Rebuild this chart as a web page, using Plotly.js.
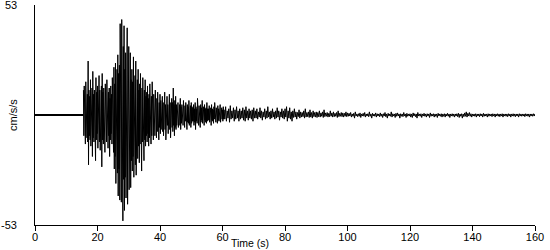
<!DOCTYPE html>
<html>
<head>
<meta charset="utf-8">
<script src="https://cdn.plot.ly/plotly-3.0.1.min.js"></script>
<style>
  html, body { margin: 0; padding: 0; background: #ffffff; }
  #chart { width: 550px; height: 250px; }
</style>
</head>
<body>
<div id="chart"></div>
<script>
// ---- Data (cm/s/s) ----
// Quiet record before the arrival
var preEventTime = [0, 15.5];
var preEventAccel = [0, 0];

// Strong motion 15.5-60.25 s: positive and negative peak per 0.25 s window
var strongStart = 15.5;
var strongStep = 0.25;
var strongUpper = [
  12, 14, 11, 16, 13, 10, 26, 12, 9, 17, 11, 13, 21, 10, 12, 8, 18, 11, 14, 10,
  19, 12, 9, 14, 20, 11, 13, 8, 15, 10, 17, 9, 11, 13, 8, 14, 10, 18, 13, 23,
  15, 25, 18, 22, 29, 20, 24, 44, 28, 46, 25, 33, 43, 22, 30, 27, 42, 24, 33, 19,
  30, 17, 22, 16, 28, 14, 19, 26, 13, 17, 22, 12, 15, 20, 11, 13, 18, 10, 12, 17,
  9, 11, 14, 8, 10, 15, 7, 9, 16, 8, 10, 7, 12, 6, 8, 11, 7, 6, 10, 7,
  5, 9, 6, 7, 11, 5, 6, 9, 5, 7, 10, 6, 5, 8, 6, 13, 5, 7, 9, 5,
  4, 6, 3.5, 5, 8, 4, 5, 3.5, 7, 4, 4.5, 6, 3.5, 5, 4, 7, 3.5, 4.5, 6, 4,
  3.5, 5, 3, 6, 4, 3, 8, 3.5, 4.5, 3, 5, 3.5, 7, 3, 4, 5, 3, 3.5, 6, 3,
  3, 4.5, 2.5, 3.5, 5, 3, 2.5, 4, 6, 3, 3.5, 2.5, 4.5, 3, 2.5, 5, 3, 3.5, 2.5, 4
];
var strongLower = [
  -10, -12, -14, -9, -11, -13, -24, -10, -12, -15, -9, -20, -11, -13, -10, -22, -12, -9, -16, -11,
  -13, -17, -10, -25, -12, -14, -9, -18, -11, -13, -9, -16, -10, -20, -12, -9, -14, -11, -18, -26,
  -20, -33, -24, -28, -39, -26, -41, -30, -42, -35, -51, -31, -46, -30, -40, -28, -43, -32, -36, -24,
  -35, -22, -27, -20, -30, -18, -24, -29, -17, -21, -15, -23, -14, -18, -27, -13, -16, -22, -12, -15,
  -10, -13, -9, -15, -11, -8, -14, -10, -8, -12, -7, -10, -6, -11, -8, -7, -12, -6, -9, -7,
  -6, -8, -10, -5, -7, -12, -6, -5, -9, -6, -7, -11, -5, -6, -8, -5, -10, -6, -7, -5,
  -4, -6, -3.5, -5, -7, -4, -3.5, -5, -4, -6, -3, -4.5, -7, -3.5, -4, -5, -3.5, -6, -4, -3,
  -3, -5, -3.5, -7, -3, -4, -2.5, -5, -3, -6, -3.5, -2.5, -4, -3, -5, -2.5, -3.5, -4, -3, -2.5,
  -2.5, -3.5, -2, -5, -2.5, -3, -4, -2, -2.5, -3.5, -2, -4, -2.5, -3, -2, -3.5, -2.5, -2, -3, -2
];

// Later shaking 60.5-100 s: positive and negative peak per 0.5 s window
var midStart = 60.5;
var midStep = 0.5;
var midUpper = [
  2.5, 4, 2, 3, 4.5, 2, 3.5, 2.5, 4, 2, 3, 2, 3.5, 2.5, 4, 2, 3, 2, 2.5, 3.5,
  2, 3, 1.5, 3.5, 2, 1.5, 3, 2, 4, 1.5, 2, 3, 1.5, 2, 3.5, 2, 1.5, 3, 2, 3,
  4, 2, 3.5, 1.5, 2, 3, 1.5, 1.2, 2.5, 1.5, 1.2, 2, 3, 1.2, 1.5, 2.5, 1.2, 2, 1.2, 1.5,
  1.2, 2, 1, 1.5, 2.5, 1, 1.2, 0.8, 2, 1, 1.5, 0.8, 1.2, 2, 0.8, 1.2, 1, 0.8, 1.5, 1
];
var midLower = [
  -2, -3, -1.5, -3.5, -2, -1.5, -3, -2, -1.5, -3, -2, -1.5, -2.5, -3, -1.5, -2.5, -1.5, -2, -3, -1.5,
  -1.5, -2, -1, -1.5, -2.5, -1, -2, -1.5, -1, -2, -1.5, -1, -2, -1.5, -1, -2.5, -1, -1.5, -2, -1,
  -3, -1.5, -2, -3, -1.2, -1, -2, -0.8, -1.5, -1, -0.8, -1.5, -1, -0.8, -1.2, -1, -1.5, -0.8, -1, -1.2,
  -0.8, -1, -0.6, -1.2, -0.8, -0.6, -1, -0.8, -0.6, -1, -0.8, -0.6, -1.2, -0.8, -0.6, -0.8, -1, -0.6, -0.8, -0.6
];

// Coda 100.5-160 s: positive and negative peak per 0.5 s window
var codaStart = 100.5;
var codaStep = 0.5;
var codaUpper = [
  0.8, 1.2, 0.5, 0.8, 1.5, 0.5, 0.6, 1, 0.5, 0.8, 1.2, 0.5, 0.6, 1.5, 0.5, 0.8, 0.5, 1, 0.6, 0.5,
  1, 0.5, 0.6, 1.2, 0.5, 0.8, 0.5, 1.5, 0.6, 0.5, 0.8, 1, 0.5, 0.6, 0.5, 1.2, 0.5, 0.8, 0.5, 0.6,
  0.5, 1, 0.6, 0.5, 1.2, 0.5, 0.6, 0.5, 0.8, 0.5, 0.6, 0.5, 1, 0.5, 0.6, 0.5, 0.5, 0.8, 0.5, 0.6,
  0.5, 0.6, 0.5, 0.8, 0.5, 0.5, 0.6, 0.5, 0.5, 0.6, 0.8, 0.5, 0.6, 0.5, 1, 1.5, 0.8, 1.2, 0.6, 0.5,
  0.5, 0.6, 0.5, 0.5, 0.6, 0.5, 0.8, 0.5, 0.5, 0.6, 0.5, 0.5, 0.6, 0.5, 0.5, 0.6, 0.5, 0.5, 0.6, 0.5,
  0.5, 0.5, 0.6, 0.5, 0.5, 0.6, 0.5, 0.5, 0.5, 0.6, 0.5, 0.5, 0.5, 0.6, 0.5, 0.5, 0.5, 0.5, 0.6, 0.5
];
var codaLower = [
  -0.5, -1, -0.6, -1.5, -0.5, -0.8, -0.6, -1.2, -0.5, -0.6, -1, -0.5, -0.8, -0.6, -1.5, -0.5, -0.6, -1, -0.5, -0.8,
  -0.6, -1.2, -0.5, -0.8, -1.5, -0.5, -0.6, -1, -0.5, -1.2, -0.6, -0.5, -1.5, -0.6, -0.8, -0.5, -1.2, -0.6, -0.5, -1,
  -1.2, -0.5, -0.8, -1.5, -0.5, -0.6, -1.2, -0.5, -0.6, -1, -0.5, -1.2, -0.6, -0.5, -1, -0.6, -1.2, -0.5, -0.6, -1,
  -0.6, -1, -0.5, -0.6, -1.2, -0.5, -0.6, -1, -0.5, -0.8, -1.2, -0.6, -1.5, -0.8, -0.6, -1, -0.5, -0.6, -1, -0.5,
  -0.6, -1, -0.5, -0.8, -0.5, -1, -0.6, -0.5, -1, -0.6, -0.5, -0.8, -0.5, -1, -0.5, -0.6, -0.8, -0.5, -1, -0.5,
  -0.6, -0.8, -0.5, -1, -0.5, -0.6, -0.8, -0.5, -1, -0.5, -0.6, -0.5, -0.8, -0.5, -0.6, -1, -0.5, -0.6, -0.5, -0.5
];

var xTickVals = [0, 20, 40, 60, 80, 100, 120, 140, 160];
var yLabelVals = [53, -53];
var yLabelText = ["53", "-53"];

// ---- Build the trace from the peak arrays ----
var tX = [], tY = [];
function addPeaks(start, step, up, lo) {
  for (var i = 0; i < up.length; i++) {
    var t = start + i * step;
    tX.push(t); tY.push(up[i]);
    tX.push(t + step / 2); tY.push(lo[i]);
  }
}
addPeaks(strongStart, strongStep, strongUpper, strongLower);
addPeaks(midStart, midStep, midUpper, midLower);
addPeaks(codaStart, codaStep, codaUpper, codaLower);

var font = { family: "Liberation Sans, Arial, sans-serif", size: 11, color: "#000000" };

var traces = [
  { x: preEventTime, y: preEventAccel, type: "scatter", mode: "lines",
    line: { color: "#000000", width: 2 }, hoverinfo: "skip" },
  { x: tX, y: tY, type: "scatter", mode: "lines",
    line: { color: "#000000", width: 1 }, hoverinfo: "skip" }
];

var annotations = [
  { text: "Time (s)", xref: "paper", yref: "paper", x: (250 - 35) / 500, y: (225 - 250) / 220,
    xanchor: "center", yanchor: "bottom", borderpad: 0, showarrow: false,
    font: { family: font.family, size: 10.5, color: "#000000" } },
  { text: "cm/s/s", xref: "paper", yref: "paper", x: (13 - 35) / 500, y: 0.5,
    xanchor: "center", yanchor: "middle", textangle: -90, showarrow: false, font: font }
];
for (var k = 0; k < yLabelVals.length; k++) {
  annotations.push({ text: yLabelText[k], xref: "paper", yref: "y", x: (19 - 35) / 500, y: yLabelVals[k],
    xanchor: "right", yanchor: "middle", showarrow: false, font: font });
}

var layout = {
  width: 550, height: 250,
  margin: { l: 35, r: 15, t: 5, b: 25, pad: 0 },
  paper_bgcolor: "#ffffff", plot_bgcolor: "#ffffff",
  showlegend: false,
  font: font,
  xaxis: {
    range: [0, 160], tickvals: xTickVals, ticktext: xTickVals.map(String),
    showline: true, linecolor: "#000000", linewidth: 1,
    ticks: "outside", ticklen: 5, tickwidth: 1, tickcolor: "#000000",
    showgrid: false, zeroline: false, tickfont: font, ticklabelstandoff: -3
  },
  yaxis: {
    range: [-53, 53], showticklabels: false,
    showline: true, linecolor: "#000000", linewidth: 1,
    ticks: "", showgrid: false, zeroline: false
  },
  annotations: annotations
};

Plotly.newPlot("chart", traces, layout, { staticPlot: true, displayModeBar: false });
</script>
</body>
</html>
